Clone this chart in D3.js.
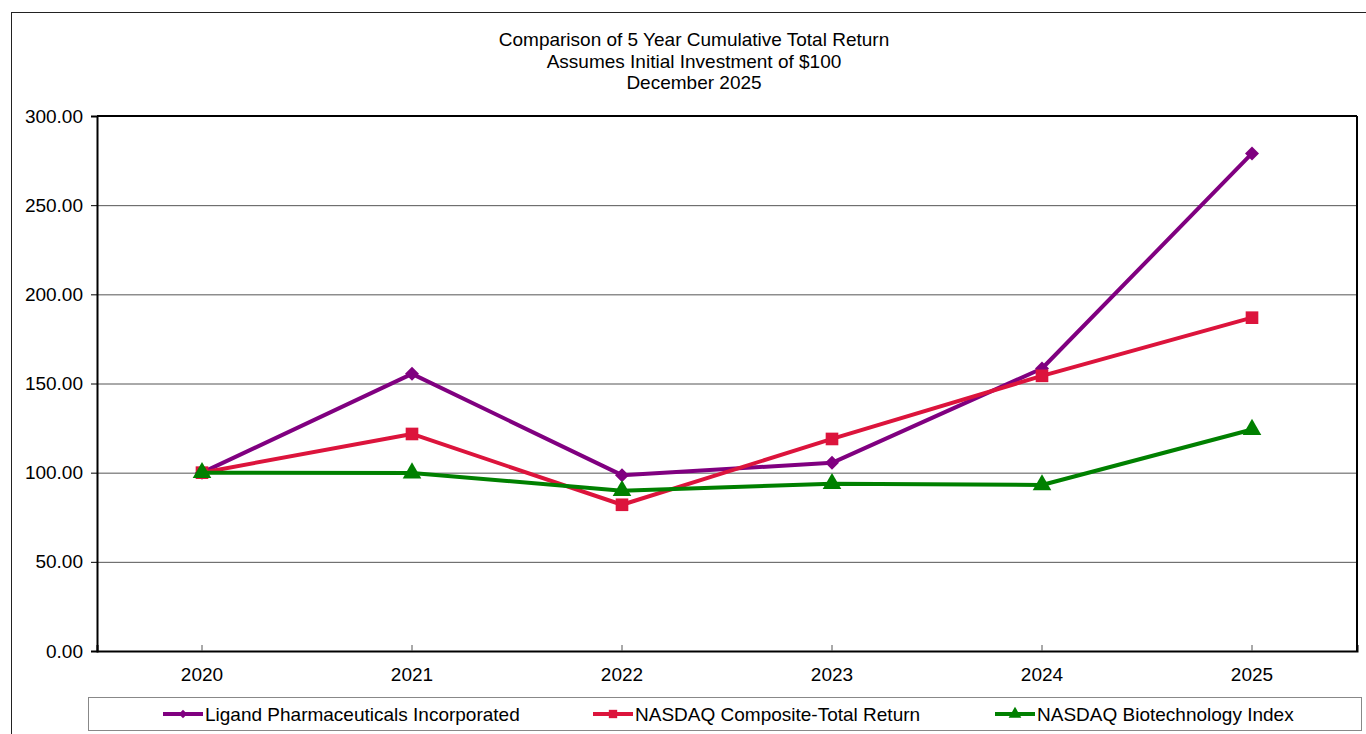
<!DOCTYPE html>
<html><head><meta charset="utf-8">
<script src="https://cdn.jsdelivr.net/npm/d3@7"></script>
<style>body{margin:0;background:#fff}svg{display:block;font-family:"Liberation Sans",Arial,sans-serif}</style>
</head><body>
<svg id="c" width="1366" height="734"></svg>
<script>
const years = ["2020","2021","2022","2023","2024","2025"];
const ligand = [100, 155.4, 98.6, 105.5, 158.4, 279.0];
const nasdaqComp = [100, 121.7, 82.0, 118.9, 154.3, 186.9];
const nasdaqBio = [100, 99.8, 89.9, 93.8, 93.1, 124.2];
const yTicks = [0, 50, 100, 150, 200, 250, 300];
const titleLines = ["Comparison of 5 Year Cumulative Total Return","Assumes Initial Investment of $100","December 2025"];
const seriesNames = ["Ligand Pharmaceuticals Incorporated","NASDAQ Composite-Total Return","NASDAQ Biotechnology Index"];
const seriesColors = ["#800080","#DC143C","#008000"];
const wideDiamond = {draw(ctx,size){const r=Math.sqrt(size)/2;ctx.moveTo(0,-r);ctx.lineTo(r,0);ctx.lineTo(0,r);ctx.lineTo(-r,0);ctx.closePath();}};
const seriesSymbols = [wideDiamond, d3.symbolSquare, d3.symbolTriangle];
const markerSizes = [196, 160, 150];
const seriesData = [ligand, nasdaqComp, nasdaqBio];

const svg = d3.select("#c");
const L = 97, R = 1357, T = 116, B = 651;
const FS = 19;

svg.append("rect").attr("x",11.5).attr("y",12.5).attr("width",1370).attr("height",740)
  .attr("fill","none").attr("stroke","#222").attr("stroke-width",1);

svg.append("g").selectAll("text").data(titleLines).join("text")
  .attr("x",694).attr("y",(d,i)=>46+i*21.5).attr("text-anchor","middle")
  .attr("font-size",19).attr("fill","#000").text(d=>d);

const x = d3.scaleBand().domain(years).range([L,R]);
const cx = d => x(d) + x.bandwidth()/2;
const y = d3.scaleLinear().domain([0,300]).range([B,T]);

svg.append("g").selectAll("line").data(yTicks.filter(t=>t>0 && t<300)).join("line")
  .attr("x1",L).attr("x2",R).attr("y1",d=>y(d)+0.5).attr("y2",d=>y(d)+0.5)
  .attr("stroke","#555").attr("stroke-width",1);

svg.append("line").attr("x1",L).attr("x2",R).attr("y1",T).attr("y2",T).attr("stroke","#000").attr("stroke-width",2);
svg.append("line").attr("x1",R).attr("x2",R).attr("y1",T).attr("y2",B).attr("stroke","#000").attr("stroke-width",2);

const ya = svg.append("g").attr("transform",`translate(${L},0)`)
  .call(d3.axisLeft(y).tickValues(yTicks).tickFormat(d3.format(".2f")).tickSize(6).tickPadding(8));
ya.select(".domain").attr("stroke","#000").attr("stroke-width",2);
ya.selectAll("text").attr("font-size",FS).attr("font-family","Liberation Sans, Arial, sans-serif").attr("fill","#000");
ya.selectAll(".tick line").attr("stroke","#000");

const xa = svg.append("g").attr("transform",`translate(0,${B})`)
  .call(d3.axisBottom(x).tickSize(-6).tickPadding(17));
xa.select(".domain").attr("stroke","#000").attr("stroke-width",2);
xa.selectAll(".tick line").attr("stroke","#555");
xa.selectAll("text").attr("font-size",FS).attr("font-family","Liberation Sans, Arial, sans-serif").attr("fill","#000");

const line = d3.line().x((d,i)=>cx(years[i])).y(d=>y(d));
seriesData.forEach((vals,s)=>{
  const g = svg.append("g");
  g.append("path").attr("d",line(vals)).attr("fill","none")
    .attr("stroke",seriesColors[s]).attr("stroke-width",4).attr("stroke-linejoin","round");
  g.selectAll("path.m").data(vals).join("path").attr("class","m")
    .attr("transform",(d,i)=>`translate(${cx(years[i])},${y(d)})`)
    .attr("d",d3.symbol().type(seriesSymbols[s]).size(markerSizes[s]))
    .attr("fill",seriesColors[s]);
});

svg.append("rect").attr("x",88.5).attr("y",697.5).attr("width",1273).attr("height",33)
  .attr("fill","#fff").attr("stroke","#888").attr("stroke-width",1);
const legX = [163, 593, 995];
seriesNames.forEach((n,s)=>{
  const g = svg.append("g").attr("transform",`translate(${legX[s]},714)`);
  g.append("line").attr("x1",0).attr("x2",40).attr("stroke",seriesColors[s]).attr("stroke-width",4);
  g.append("path").attr("transform","translate(20,0)")
    .attr("d",d3.symbol().type(seriesSymbols[s]).size(70)).attr("fill",seriesColors[s]);
  g.append("text").attr("x",42).attr("y",7).attr("font-size",FS).attr("fill","#000").text(n);
});
</script>
</body></html>
